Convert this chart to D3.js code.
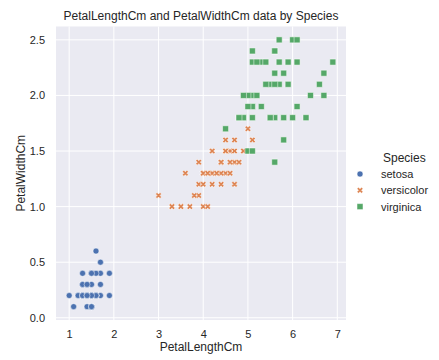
<!DOCTYPE html>
<html>
<head>
<meta charset="utf-8">
<script src="https://cdn.jsdelivr.net/npm/d3@7.9.0/dist/d3.min.js"></script>
<style>
  body { margin: 0; background: #fff; }
  svg { font-family: "Liberation Sans", Arial, sans-serif; }
</style>
</head>
<body>
<svg id="chart" width="439" height="360"></svg>
<script>
// iris petal measurements, in data order
const species = ['setosa', 'versicolor', 'virginica'];

const setosaLength = [1.4,1.4,1.3,1.5,1.4,1.7,1.4,1.5,1.4,1.5,1.5,1.6,1.4,1.1,1.2,1.5,1.3,1.4,1.7,1.5,
  1.7,1.5,1.0,1.7,1.9,1.6,1.6,1.5,1.4,1.6,1.6,1.5,1.5,1.4,1.5,1.2,1.3,1.5,1.3,1.5,1.3,1.3,1.3,1.6,1.9,1.4,1.6,1.4,1.5,1.4];
const setosaWidth = [0.2,0.2,0.2,0.2,0.2,0.4,0.3,0.2,0.2,0.1,0.2,0.2,0.1,0.1,0.2,0.4,0.4,0.3,0.3,0.3,
  0.2,0.4,0.2,0.5,0.2,0.2,0.4,0.2,0.2,0.2,0.2,0.4,0.1,0.2,0.1,0.2,0.2,0.1,0.2,0.2,0.3,0.3,0.2,0.6,0.4,0.3,0.2,0.2,0.2,0.2];

const versicolorLength = [4.7,4.5,4.9,4.0,4.6,4.5,4.7,3.3,4.6,3.9,3.5,4.2,4.0,4.7,3.6,4.4,4.5,4.1,4.5,3.9,
  4.8,4.0,4.9,4.7,4.3,4.4,4.8,5.0,4.5,3.5,3.8,3.7,3.9,5.1,4.5,4.5,4.7,4.4,4.1,4.0,4.4,4.6,4.0,3.3,4.2,4.2,4.2,4.3,3.0,4.1];
const versicolorWidth = [1.4,1.5,1.5,1.3,1.5,1.3,1.6,1.0,1.3,1.4,1.0,1.5,1.0,1.4,1.3,1.4,1.5,1.0,1.5,1.1,
  1.8,1.3,1.5,1.2,1.3,1.4,1.4,1.7,1.5,1.0,1.1,1.0,1.2,1.6,1.5,1.6,1.5,1.3,1.3,1.3,1.2,1.4,1.2,1.0,1.3,1.2,1.3,1.3,1.1,1.3];

const virginicaLength = [6.0,5.1,5.9,5.6,5.8,6.6,4.5,6.3,5.8,6.1,5.1,5.3,5.5,5.0,5.1,5.3,5.5,6.7,6.9,5.0,
  5.7,4.9,6.7,4.9,5.7,6.0,4.8,4.9,5.6,5.8,6.1,6.4,5.6,5.1,5.6,6.1,5.6,5.5,4.8,5.4,5.6,5.1,5.1,5.9,5.7,5.2,5.0,5.2,5.4,5.1];
const virginicaWidth = [2.5,1.9,2.1,1.8,2.2,2.1,1.7,1.8,1.8,2.5,2.0,1.9,2.1,2.0,2.4,2.3,1.8,2.2,2.3,1.5,
  2.3,2.0,2.0,1.8,2.1,1.8,1.8,1.8,2.1,1.6,1.9,2.0,2.2,1.5,1.4,2.3,2.4,1.8,1.8,2.1,2.4,2.3,1.9,2.3,2.5,2.3,1.9,2.0,2.3,1.8];

const xTicks = [1, 2, 3, 4, 5, 6, 7];
const yTicks = [0.0, 0.5, 1.0, 1.5, 2.0, 2.5];

const colors = { setosa: '#4c72b0', versicolor: '#dd8452', virginica: '#55a868' };

const points = [
  ...setosaLength.map((v, i) => ({ x: v, y: setosaWidth[i], s: 'setosa' })),
  ...versicolorLength.map((v, i) => ({ x: v, y: versicolorWidth[i], s: 'versicolor' })),
  ...virginicaLength.map((v, i) => ({ x: v, y: virginicaWidth[i], s: 'virginica' })),
];

const plot = { left: 56, right: 346, top: 26.5, bottom: 320 };
const svg = d3.select('#chart');
const ink = '#262626';

// matplotlib-style 5% margins
const xExt = d3.extent(points, (d) => d.x);
const yExt = d3.extent(points, (d) => d.y);
const xPad = (xExt[1] - xExt[0]) * 0.05;
const yPad = (yExt[1] - yExt[0]) * 0.05;

const x = d3.scaleLinear().domain([xExt[0] - xPad, xExt[1] + xPad]).range([plot.left, plot.right]);
const y = d3.scaleLinear().domain([yExt[0] - yPad, yExt[1] + yPad]).range([plot.bottom, plot.top]);

svg.append('rect')
  .attr('x', plot.left).attr('y', plot.top)
  .attr('width', plot.right - plot.left).attr('height', plot.bottom - plot.top)
  .attr('fill', '#eaeaf2');

// grid
svg.append('g').selectAll('line').data(xTicks).join('line')
  .attr('x1', (d) => x(d)).attr('x2', (d) => x(d))
  .attr('y1', plot.top).attr('y2', plot.bottom)
  .attr('stroke', '#fff').attr('stroke-width', 1);
svg.append('g').selectAll('line').data(yTicks).join('line')
  .attr('y1', (d) => y(d)).attr('y2', (d) => y(d))
  .attr('x1', plot.left).attr('x2', plot.right)
  .attr('stroke', '#fff').attr('stroke-width', 1);

// tick labels
const xAxis = d3.axisBottom(x).tickValues(xTicks).tickSize(0).tickPadding(10).tickFormat(d3.format('d'));
const gx = svg.append('g').attr('transform', `translate(0,${plot.bottom})`).call(xAxis);
const yAxis = d3.axisLeft(y).tickValues(yTicks).tickSize(0).tickPadding(11).tickFormat(d3.format('.1f'));
const gy = svg.append('g').attr('transform', `translate(${plot.left},0)`).call(yAxis);
[gx, gy].forEach((g) => {
  g.select('.domain').remove();
  g.selectAll('text').attr('fill', ink).style('font-size', '11px').style('font-family', null);
});

// markers (matplotlib 'o', 'X', 's' at 6px)
const symbols = {
  setosa: d3.symbol(d3.symbolCircle, 36 * Math.PI / 4)(),
  versicolor: 'M-1.5,-3L0,-1.5L1.5,-3L3,-1.5L1.5,0L3,1.5L1.5,3L0,1.5L-1.5,3L-3,1.5L-1.5,0L-3,-1.5Z',
  virginica: 'M-3,-3L3,-3L3,3L-3,3Z',
};

function drawMarker(g, s, px, py) {
  g.append('path')
    .attr('d', symbols[s])
    .attr('transform', `translate(${px},${py})`)
    .attr('fill', colors[s])
    .attr('stroke', '#fff')
    .attr('stroke-width', 0.5);
}

const gp = svg.append('g');
points.forEach((d) => drawMarker(gp, d.s, x(d.x), y(d.y)));

// title and axis labels
svg.append('text')
  .attr('x', (plot.left + plot.right) / 2).attr('y', 20)
  .attr('text-anchor', 'middle').attr('fill', ink).style('font-size', '12px')
  .text('PetalLengthCm and PetalWidthCm data by Species');
svg.append('text')
  .attr('x', (plot.left + plot.right) / 2).attr('y', 351)
  .attr('text-anchor', 'middle').attr('fill', ink).style('font-size', '12px')
  .text('PetalLengthCm');
svg.append('text')
  .attr('transform', `translate(25,${(plot.top + plot.bottom) / 2}) rotate(-90)`)
  .attr('text-anchor', 'middle').attr('fill', ink).style('font-size', '12px')
  .text('PetalWidthCm');

// legend
const legend = svg.append('g');
legend.append('text')
  .attr('x', 383).attr('y', 162)
  .attr('fill', ink).style('font-size', '12px')
  .text('Species');
species.forEach((s, i) => {
  const cy = 174 + i * 16.3;
  drawMarker(legend, s, 360, cy);
  legend.append('text')
    .attr('x', 381).attr('y', cy + 4)
    .attr('fill', ink).style('font-size', '11px')
    .text(s);
});
</script>
</body>
</html>
